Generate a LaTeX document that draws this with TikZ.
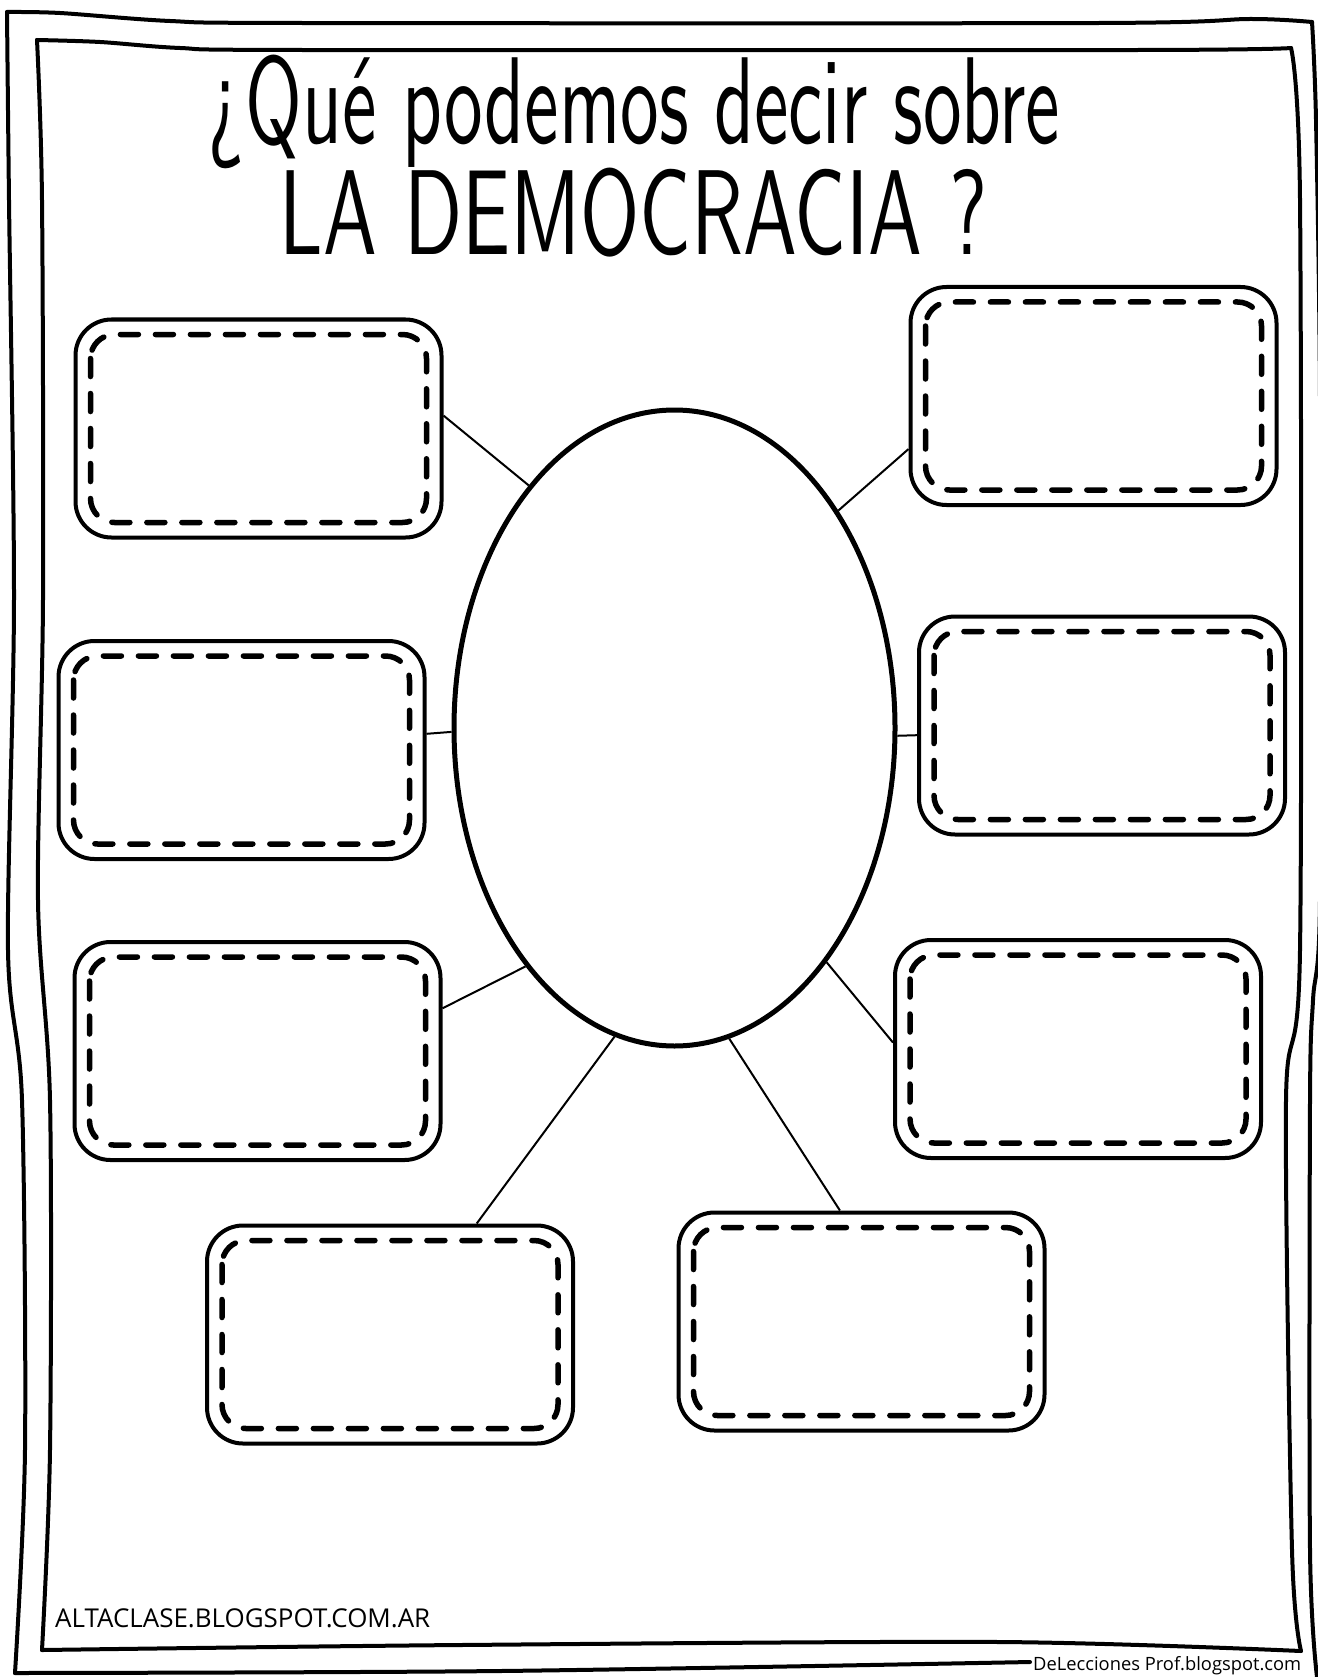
\documentclass[tikz,border=0pt]{standalone}
\usepackage{fontspec}
\newfontfamily\osans{Open Sans}
\usetikzlibrary{shapes.geometric}
\newcommand\wbox[3]{%
  \node[bx] (#1) at (#2,#3) {};
  \draw[dsh] ([shift={(17,17)}]#1.north west) rectangle ([shift={(-17,-17)}]#1.south east);}
\begin{document}
\begin{tikzpicture}[x=1pt,y=-1pt,
  bx/.style={draw, line width=4pt, rounded corners=36pt, minimum width=366pt, minimum height=218pt, inner sep=0pt},
  dsh/.style={line width=5.5pt, rounded corners=24pt, dash pattern=on 18pt off 17pt, line cap=round},
  cn/.style={line width=2pt},
  bd/.style={line width=4pt, line cap=round, line join=round},
  oval/.style={draw, ellipse, line width=5pt, minimum width=441pt, minimum height=636pt, inner sep=0pt}]
\useasboundingbox (0,0) rectangle (1317,1677);
% borders
\draw[bd] plot[smooth] coordinates {(7,12) (60,13) (170,21) (300,23) (1100,23) (1250,19) (1312,22)};
\draw[bd] plot[smooth] coordinates {(1312,22) (1316,120) (1320,400) (1320,900) (1313,1000) (1310,1100) (1310,1550) (1317,1677)};
\draw[bd] plot[smooth] coordinates {(15,1673) (500,1671) (1030,1662)};
\draw[bd] plot[smooth] coordinates {(7,12) (9,200) (14,600) (8,950) (22,1100) (25,1450) (15,1673)};
\draw[bd] plot[smooth] coordinates {(37,40) (100,42) (180,48) (300,50) (1140,50) (1291,48)};
\draw[bd] plot[smooth] coordinates {(1291,48) (1300,200) (1300,950) (1286,1100) (1292,1550) (1301,1651)};
\draw[bd] plot[smooth] coordinates {(1301,1651) (1000,1642) (460,1645) (42,1650)};
\draw[bd] plot[smooth] coordinates {(37,40) (42,200) (43,600) (38,900) (50,1100) (50,1450) (42,1650)};
% title
\node[anchor=base, inner sep=0pt] (t1) at (634.5,144) {\scalebox{1}[1.6]{\resizebox{851pt}{!}{\sffamily ¿Qué podemos decir sobre}}};
\node[anchor=base, inner sep=0pt] (t2) at (633.5,255) {\scalebox{1}[1.5]{\resizebox{707pt}{!}{\sffamily LA DEMOCRACIA ?}}};
% center
\node[oval] (E) at (674.5,728) {};
% boxes
\wbox{L1}{258.5}{428.5}
\wbox{L2}{241.5}{750}
\wbox{L3}{257.5}{1051}
\wbox{B1}{390}{1334.5}
\wbox{B2}{861.5}{1321.5}
\wbox{R1}{1093.5}{396}
\wbox{R2}{1102}{725.5}
\wbox{R3}{1078}{1049}
% connectors
\draw[cn] (L1.4) -- (E.121.7);
\draw[cn] (L2.5) -- (E.181);
\draw[cn] (L3.13.8) -- (E.238.3);
\draw[cn] (B1.52.1) -- (E.259.8);
\draw[cn] (B2.101) -- (E.280.8);
\draw[cn] (R1.196.4) -- (E.53.2);
\draw[cn] (R2.183.1) -- (E.358);
\draw[cn] (R3.178) -- (E.303.4);
% credits
\node[anchor=base west, inner sep=0pt] (w1) at (55,1627) {\resizebox{375pt}{!}{\osans ALTACLASE.BLOGSPOT.COM.AR}};
\node[anchor=base west, inner sep=0pt] (w2) at (1033,1670) {\resizebox{268pt}{!}{\osans DeLecciones Prof.blogspot.com}};
\end{tikzpicture}
\end{document}
